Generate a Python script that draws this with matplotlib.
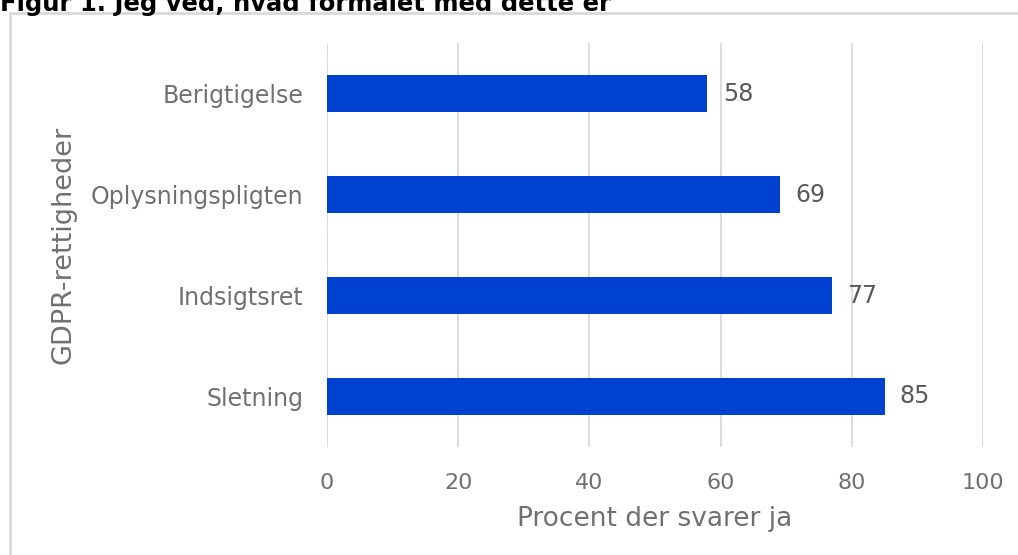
import matplotlib
matplotlib.use("Agg")
import matplotlib.pyplot as plt
from matplotlib.patches import Rectangle

# Data
rights = ['Berigtigelse', 'Oplysningspligten', 'Indsigtsret', 'Sletning']
pct_yes = [58, 69, 77, 85]
xticks = [0, 20, 40, 60, 80, 100]

plt.rcParams['font.family'] = ['DejaVu Sans']
grey = '#707070'
blue = '#0041D0'

fig = plt.figure(figsize=(10.18, 5.55), dpi=100)
ax = fig.add_axes([0.3212, 0.1946, 0.6444, 0.7279])

ypos = list(range(len(rights)))
ax.barh(ypos, pct_yes, height=0.36, color=blue, zorder=3)
for y, v in zip(ypos, pct_yes):
    ax.annotate(str(v), (v, y), xytext=(11, 0), textcoords='offset points',
                va='center', ha='left', fontsize=17, color='#595959')

ax.set_ylim(len(rights) - 0.5, -0.5)
ax.set_xlim(0, 100)
ax.set_yticks(ypos)
ax.set_yticklabels(rights)
ax.set_xticks(xticks)
ax.tick_params(axis='both', length=0, labelcolor=grey)
ax.tick_params(axis='y', pad=17, labelsize=17)
ax.tick_params(axis='x', pad=19, labelsize=16)
ax.grid(axis='x', color='#D9D9D9', linewidth=1.3, zorder=0)
for s in ax.spines.values():
    s.set_visible(False)

ax.set_xlabel('Procent der svarer ja', fontsize=19, color=grey, labelpad=9)
ax.set_ylabel('GDPR-rettigheder', fontsize=19.5, color=grey, labelpad=10)

# outer frame (cropped at right and bottom)
fig.patches.append(Rectangle((10 / 1018, -0.1), 1.2, 1 - 13 / 555 + 0.1,
                             transform=fig.transFigure, fill=False,
                             edgecolor='#D9D9D9', linewidth=2))
fig.text(0.0, 1 - 2 / 555, 'Figur 1. Jeg ved, hvad formålet med dette er',
         fontsize=17.5, fontweight='bold', color='black', va='center', ha='left')

fig.savefig('out.png', dpi=100)
